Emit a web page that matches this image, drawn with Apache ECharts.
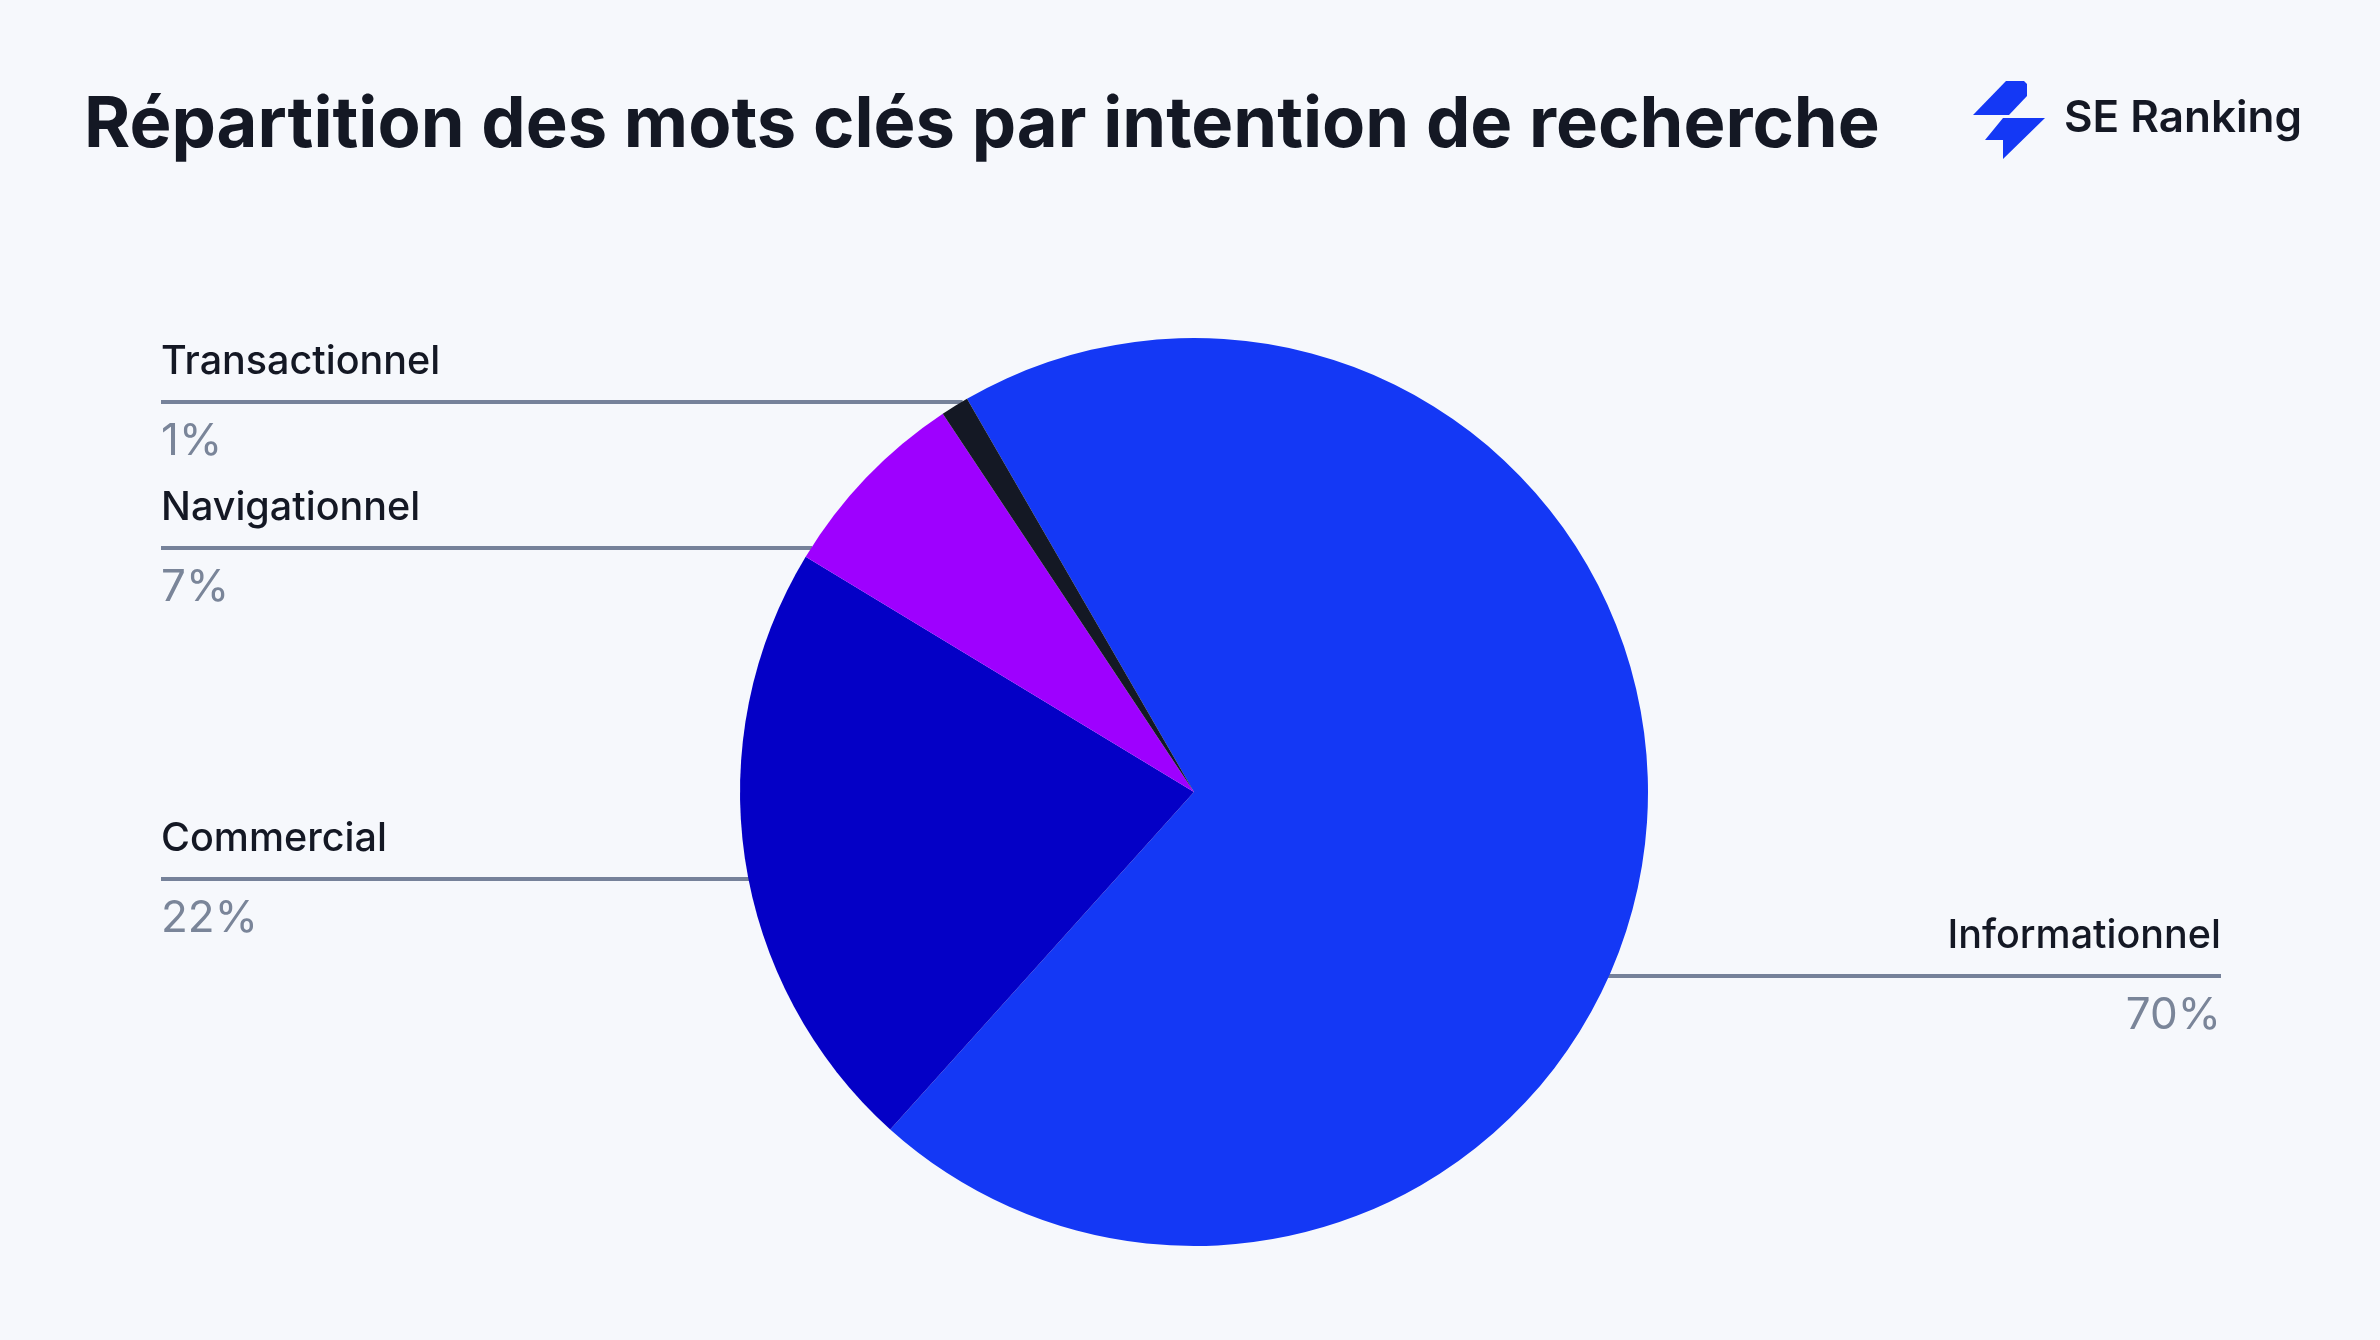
<!DOCTYPE html>
<html>
<head>
<meta charset="utf-8">
<script src="https://cdn.jsdelivr.net/npm/echarts@6/dist/echarts.min.js"></script>
<style>
  html, body { margin: 0; padding: 0; background: #F6F8FC; }
  #chart { width: 2380px; height: 1340px; }
</style>
</head>
<body>
<div id="chart"></div>
<script>
// ---- data ----
const titleText = 'Répartition des mots clés par intention de recherche';
const categories = ['Informationnel', 'Commercial', 'Navigationnel', 'Transactionnel'];
const shares = [70, 22, 7, 1];

// ---- styles / layout (kept apart from data) ----
const sliceColors = ['#1438F5', '#0400C6', '#9E00FF', '#141824'];
const labelSide = ['right', 'left', 'left', 'left'];
const labelLineY = [976, 879, 548, 402];
const CX = 1194, CY = 792, R = 454;
const LEFT_X = 161, RIGHT_X = 2221;
const FONT = 'Inter, "Noto Sans", sans-serif';

const chart = echarts.init(document.getElementById('chart'), null, { renderer: 'canvas' });

const option = {
  backgroundColor: '#F6F8FC',
  animation: false,
  title: {
    text: titleText,
    left: 79,
    top: 85,
    textStyle: { fontFamily: FONT, fontSize: 70.5, fontWeight: 700, color: '#141824' }
  },
  graphic: [
    { type: 'polygon', silent: true,
      shape: { points: [[1973, 115], [2006, 81], [2024, 81], [2027, 84], [2027, 96], [2009, 115]] },
      style: { fill: '#1438F5' } },
    { type: 'polygon', silent: true,
      shape: { points: [[2003, 118], [2045, 118], [2003, 159], [2003, 140], [1985, 140]] },
      style: { fill: '#1438F5' } },
    { type: 'text', silent: true, left: 2064, top: 97,
      style: { text: 'SE Ranking', fontFamily: FONT, fontSize: 44, fontWeight: 600, fill: '#141824' } }
  ],
  series: [{
    type: 'pie',
    center: [CX, CY],
    radius: [0, R],
    startAngle: 120,
    clockwise: true,
    silent: true,
    avoidLabelOverlap: false,
    emphasis: { disabled: true },
    itemStyle: { borderWidth: 0 },
    data: categories.map((c, i) => ({ name: c, value: shares[i], itemStyle: { color: sliceColors[i] } })),
    label: {
      show: true,
      position: 'outside',
      formatter: p => '{n|' + p.name + '}\n{p|' + p.value + '%}',
      rich: {
        n: { fontFamily: FONT, fontSize: 39.5, fontWeight: 500, color: '#141824', lineHeight: 80 },
        p: { fontFamily: FONT, fontSize: 44, fontWeight: 400, color: '#7A8599', lineHeight: 80 }
      }
    },
    labelLine: {
      show: true, length: 0, length2: 0, smooth: false,
      lineStyle: { color: '#76829A', width: 4, cap: 'butt' }
    },
    labelLayout: function (params) {
      const i = params.dataIndex;
      const y = labelLineY[i];
      const dy = y - CY;
      const dx = Math.sqrt(Math.max(R * R - dy * dy, 0));
      const left = labelSide[i] === 'left';
      const edgeX = left ? CX - dx + 1 : CX + dx - 1;
      const endX = left ? LEFT_X : RIGHT_X;
      return {
        x: endX, y: y,
        align: left ? 'left' : 'right',
        verticalAlign: 'middle',
        labelLinePoints: [[edgeX, y], [edgeX, y], [endX, y]]
      };
    }
  }]
};
chart.setOption(option);
</script>
</body>
</html>
